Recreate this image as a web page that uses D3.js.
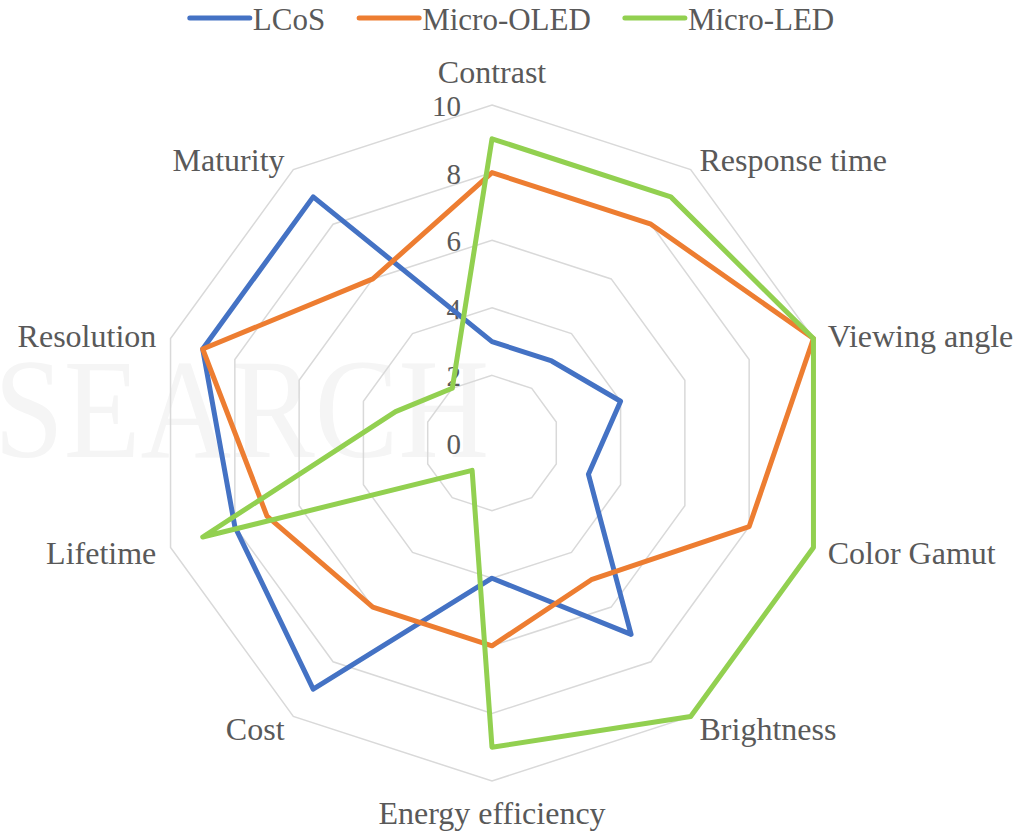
<!DOCTYPE html>
<html>
<head>
<meta charset="utf-8">
<script src="https://cdn.jsdelivr.net/npm/d3@7"></script>
<style>
  html, body { margin: 0; padding: 0; background: #fff; }
  svg { display: block; }
</style>
</head>
<body>
<svg id="chart" width="1035" height="832"></svg>
<script>
// Display technology comparison, scores 0–10
const axes = ["Contrast", "Response time", "Viewing angle", "Color Gamut", "Brightness",
              "Energy efficiency", "Cost", "Lifetime", "Resolution", "Maturity"];
const seriesNames = ["LCoS", "Micro-OLED", "Micro-LED"];
const lcos      = [3, 3, 4, 3, 7, 4, 9, 8, 9, 9];
const microOled = [8, 8, 10, 8, 5, 6, 6, 7, 9, 6];
const microLed  = [9, 9, 10, 10, 10, 9, 1, 9, 3, 2];
const tickValues = [0, 2, 4, 6, 8, 10];
const colors = ["#4472C4", "#ED7D31", "#92D050"];

const series = [lcos, microOled, microLed];
const FONT = "'Liberation Serif', 'Times New Roman', 'DejaVu Serif', serif";
const INK = "#595959";

const svg = d3.select("#chart");
const cx = 492, cy = 443, R = 338;

const r = d3.scaleLinear().domain([0, 10]).range([0, R]);
const angle = d3.scaleLinear().domain([0, axes.length]).range([0, 2 * Math.PI]);

// faint background word
svg.append("text")
  .attr("x", -6).attr("y", 457)
  .attr("textLength", 495).attr("lengthAdjust", "spacingAndGlyphs")
  .attr("font-family", FONT)
  .attr("font-size", 142)
  .attr("fill", "#f5f5f5")
  .text("SEARCH");

// concentric grid polygons
const ring = d3.lineRadial()
  .angle((d, i) => angle(i))
  .radius(d => r(d))
  .curve(d3.curveLinearClosed);

const g = svg.append("g").attr("transform", `translate(${cx},${cy})`);

g.selectAll("path.grid")
  .data(tickValues.filter(v => v > 0))
  .join("path")
  .attr("class", "grid")
  .attr("d", v => ring(axes.map(() => v)))
  .attr("fill", "none")
  .attr("stroke", "#d9d9d9")
  .attr("stroke-width", 1.5);

// radial tick labels
g.selectAll("text.tick")
  .data(tickValues)
  .join("text")
  .attr("class", "tick")
  .attr("x", -31)
  .attr("y", v => -r(v) + 1)
  .attr("text-anchor", "end")
  .attr("dominant-baseline", "central")
  .attr("font-family", FONT)
  .attr("font-size", 29)
  .attr("fill", INK)
  .text(v => v);

// series outlines
series.forEach((vals, si) => {
  g.append("path")
    .attr("d", ring(vals))
    .attr("fill", "none")
    .attr("stroke", colors[si])
    .attr("stroke-width", 5)
    .attr("stroke-linejoin", "round");
});

// axis labels
const labelRx = R + 15, labelRy = R + 14;
axes.forEach((name, i) => {
  const a = angle(i);
  const s = Math.sin(a), c = Math.cos(a);
  let anchor = "middle";
  if (s > 0.01) anchor = "start";
  else if (s < -0.01) anchor = "end";
  let baseline = "central";
  let dy = 1.5;
  if (c > 0.99) { baseline = "auto"; dy = -8; }
  else if (c < -0.99) { baseline = "hanging"; dy = 6; }
  g.append("text")
    .attr("x", labelRx * s)
    .attr("y", -labelRy * c + dy)
    .attr("text-anchor", anchor)
    .attr("dominant-baseline", baseline)
    .attr("font-family", FONT)
    .attr("font-size", 32)
    .attr("fill", INK)
    .text(name);
});

// legend
const legend = svg.append("g");
const items = legend.selectAll("g.item").data(seriesNames).join("g").attr("class", "item");
items.append("line")
  .attr("x1", 0).attr("x2", 60).attr("y1", 0).attr("y2", 0)
  .attr("stroke", (d, i) => colors[i])
  .attr("stroke-width", 5)
  .attr("stroke-linecap", "round");
items.append("text")
  .attr("x", 63).attr("y", 1)
  .attr("dominant-baseline", "central")
  .attr("font-family", FONT)
  .attr("font-size", 31)
  .attr("fill", INK)
  .text(d => d);
const widths = [];
items.each(function () {
  widths.push(63 + d3.select(this).select("text").node().getComputedTextLength());
});
const gap = 34;
const total = d3.sum(widths) + gap * (widths.length - 1);
let xPos = 512 - total / 2;
items.attr("transform", (d, i) => {
  const t = `translate(${xPos},18)`;
  xPos += widths[i] + gap;
  return t;
});
</script>
</body>
</html>
